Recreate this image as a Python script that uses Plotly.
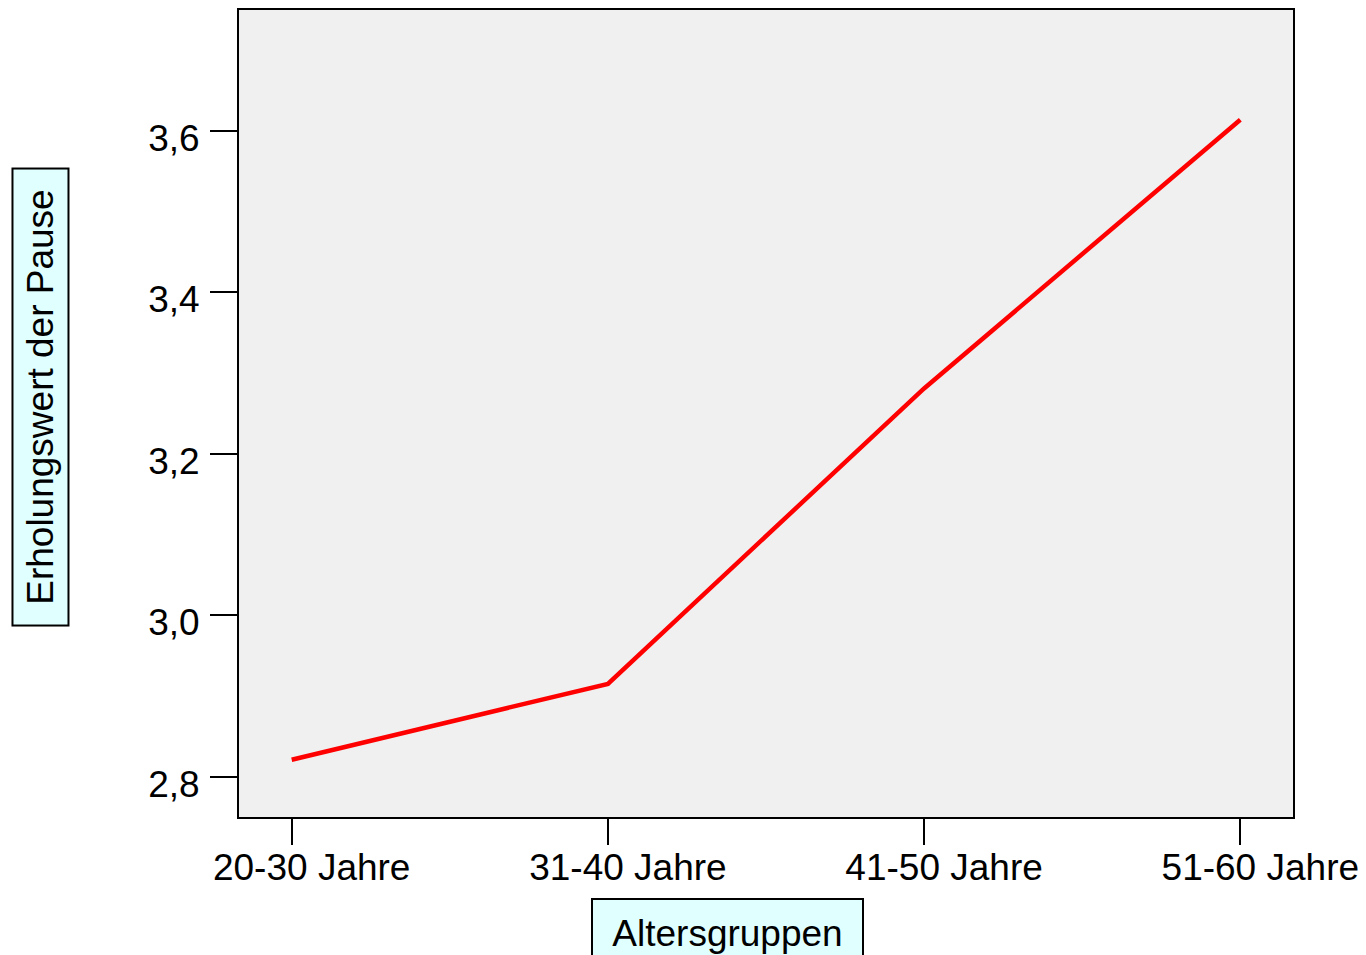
import plotly.graph_objects as go

categories = ["20-30 Jahre", "31-40 Jahre", "41-50 Jahre", "51-60 Jahre"]
values = [2.821, 2.915, 3.281, 3.614]
y_title = "Erholungswert der Pause"
x_title = "Altersgruppen"

FONT = "Liberation Sans, Arial, Helvetica, sans-serif"

fig = go.Figure()
fig.add_trace(go.Scatter(
    x=categories, y=values, mode="lines",
    line=dict(color="#ff0000", width=4.5),
    showlegend=False, hoverinfo="skip",
))

fig.update_layout(
    width=1358, height=947,
    margin=dict(l=231, r=73, t=0, b=138),
    paper_bgcolor="white",
    plot_bgcolor="#f0f0f0",
    separators=",.",
    font=dict(family=FONT, size=37, color="black"),
    xaxis=dict(
        type="category",
        range=[-1/6, 3 + 1/6],
        showgrid=False, zeroline=False,
        showline=True, linecolor="black", linewidth=2, mirror=True,
        ticks="outside", ticklen=26, tickwidth=2, tickcolor="black",
        ticklabelshift=20, ticklabelstandoff=-9,
        tickfont=dict(family=FONT, size=37, color="black"),
    ),
    yaxis=dict(
        range=[2.75, 3.75],
        tickvals=[2.8, 3.0, 3.2, 3.4, 3.6],
        tickformat=".1f",
        showgrid=False, zeroline=False,
        showline=True, linecolor="black", linewidth=2, mirror=True,
        ticks="outside", ticklen=27, tickwidth=2, tickcolor="black",
        ticklabelshift=7, ticklabelstandoff=3,
        tickfont=dict(family=FONT, size=37, color="black"),
    ),
    annotations=[
        dict(
            text=x_title, xref="paper", yref="paper",
            x=0.4635, y=-0.1434, xanchor="center", yanchor="middle",
            showarrow=False, font=dict(family=FONT, size=37, color="black"),
            bgcolor="#e0ffff", bordercolor="black", borderwidth=2,
            width=269, height=66, borderpad=0,
        ),
        dict(
            text=y_title, xref="paper", yref="paper",
            x=-0.1888, y=0.5198, xanchor="center", yanchor="middle",
            textangle=-90,
            showarrow=False, font=dict(family=FONT, size=37, color="black"),
            bgcolor="#e0ffff", bordercolor="black", borderwidth=2,
            width=455, height=54, borderpad=0,
        ),
    ],
)

fig.write_html("out.html")
